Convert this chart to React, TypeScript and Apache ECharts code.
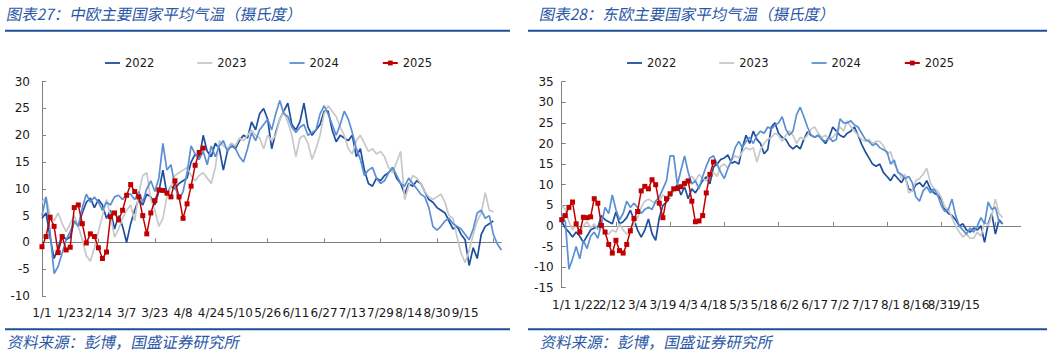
import React, { useEffect, useRef } from 'react';
import * as echarts from 'echarts';

const seriesNames = ['2022', '2023', '2024', '2025'];
const seriesColors = ['#1f4e9e', '#c8c8c8', '#5b8fd3', '#c00000'];

const leftTitle = '图表27：中欧主要国家平均气温（摄氏度）';
const rightTitle = '图表28：东欧主要国家平均气温（摄氏度）';
const sourceText = '资料来源：彭博，国盛证券研究所';

const leftTickLabels = ['1/1', '1/23', '2/14', '3/7', '3/23', '4/8', '4/24', '5/10', '5/26', '6/11', '6/27', '7/13', '7/29', '8/14', '8/30', '9/15'];
const rightTickLabels = ['1/1', '1/22', '2/12', '3/4', '3/19', '4/3', '4/18', '5/3', '5/18', '6/2', '6/17', '7/2', '7/17', '8/1', '8/16', '8/31', '9/15'];
const leftCategoryCount = 115;
const rightCategoryCount = 128;

// 中欧
const left2022 = [
  4.5, 5.5, 1.0, -3.0, -1.0, 1.5, 0.5, 1.0, 4.0, 3.0,
  5.5, 7.5, 8.3, 6.5, 8.0, 7.0, 4.5, 6.0, 2.5, 5.0,
  3.0, 0.0, 3.5, 6.0, 8.0, 7.0, 9.0, 8.5, 7.0, 9.5,
  13.5, 9.0, 10.5, 10.0, 11.0, 11.5, 12.0, 15.0, 16.5, 15.5,
  20.0, 17.0, 16.0, 18.5, 17.5, 13.5, 17.0, 18.5, 17.5, 19.0,
  20.0, 19.5, 22.5, 21.0, 24.0, 25.0, 23.0, 17.5, 20.5, 23.0,
  24.5, 26.0, 22.0, 21.0, 22.5, 26.0, 21.5, 20.0, 21.0, 22.0,
  24.5, 24.5, 21.0, 18.8, 20.0, 19.5, 19.0, 20.0, 16.0, 17.5,
  13.5, 11.0, 10.5, 12.0, 11.5, 12.5, 13.0, 14.0, 12.0, 11.0,
  9.0, 11.0, 10.5, 11.5, 11.0, 9.5, 8.0, 7.5, 6.5, 6.0,
  5.5, 4.0, 2.5, 3.0, 1.5, 0.5, -4.3, -1.0, -3.0, 1.5,
  3.0, 3.5, 4.0,
];
const left2023 = [
  7.5, 8.5, 5.0, 4.0, 5.5, 3.5, 2.0, 3.5, 5.0, 3.0,
  0.5, -2.5, -3.5, -1.0, 2.0, 5.0, 8.0, 5.0, 1.0, 2.5,
  4.5, 6.0, 7.0, 4.0, 9.0, 12.5, 13.0, 8.0, 6.0, 3.0,
  4.5, 8.5, 10.5, 12.5, 13.0, 13.5, 14.0, 12.5, 11.5, 12.5,
  13.0, 12.0, 11.0, 14.0, 19.0, 18.0, 17.5, 18.5, 18.0, 19.5,
  19.0, 20.0, 21.0, 20.0, 19.5, 17.5, 20.0, 19.0, 20.0, 23.0,
  24.5, 22.5, 20.0, 16.0, 19.5, 20.0, 18.5, 15.5, 17.5, 20.0,
  24.0, 25.5, 24.5, 23.5, 21.5, 20.0, 17.5, 16.5, 19.0, 20.0,
  18.5, 17.0, 17.5, 16.5, 17.0, 16.0, 14.0, 13.0, 15.0, 17.0,
  8.0, 10.5, 12.5, 12.0, 11.0, 9.5, 8.5, 8.0, 8.5, 9.0,
  7.5, 5.0, 4.5, 1.0, -2.0, -3.8, -1.5, 1.5, 4.0, 5.5,
  9.3, 6.0, 5.7,
];
const left2024 = [
  5.0, 8.5, 2.0, -5.8, -4.5, -2.0, 0.5, 2.0, 4.0, 3.0,
  6.5, 9.0, 7.5, 8.5, 7.5, 6.0, 7.5, 7.0, 8.5, 8.8,
  8.0, 9.0, 9.0, 8.0, 9.5, 7.5, 10.0, 11.5, 9.5, 12.0,
  18.5, 13.5, 14.5, 10.5, 8.0, 9.5, 13.0, 18.0, 16.5, 15.5,
  17.0, 14.5, 18.0, 16.0, 18.0, 19.0, 17.0, 18.0, 17.5, 16.0,
  15.0, 17.5, 20.5, 19.0, 21.0, 22.0, 23.0, 21.0, 24.0, 26.5,
  24.0, 23.5, 21.5, 20.5, 21.5, 22.0, 20.0, 20.5, 21.0, 24.0,
  25.5, 24.0, 22.0, 20.0, 22.0, 24.5, 23.0, 20.5, 17.5, 15.5,
  12.5, 13.5, 14.0, 12.0, 11.0, 11.5, 13.0, 14.0, 12.5, 11.0,
  10.5, 12.0, 11.0, 10.0, 9.0, 8.5, 6.5, 3.0, 2.3, 3.0,
  4.0, 4.5, 3.5, 3.0, 2.5, 1.5, 0.5, 2.5, 5.5, 6.0,
  4.5, 5.0, 1.5, -0.3, -1.4,
];
const left2025 = [
  -0.8, 1.1, 4.7, 3.0, -1.9, 1.1, -1.4, -0.9, 6.5, 7.0,
  3.5, -0.1, 1.6, 1.1, -1.0, -3.0, -1.8, 4.8, 5.5, 4.2,
  6.0, 8.8, 10.8, 9.5, 8.5, 5.0, 1.6, 5.5, 7.8, 9.8,
  9.7, 9.2, 8.5, 11.5, 8.5, 4.5, 7.2, 10.5, 14.4, 16.8,
  17.6,
];

// 东欧
const right2022 = [
  1.0, -0.5, -1.5, -2.7, -1.5, -2.5, -4.0, -2.5, -1.0, -0.5,
  -0.3, 2.5, 1.5, 1.0, 0.5, 3.4, 0.5, 1.0, 2.0, 3.8,
  1.5, -1.0, -2.7, -1.0, 1.7, -1.9, -3.5, 2.0, 5.0, 5.8,
  7.0, 8.8, 10.0, 7.5, 9.5, 6.6, 9.0, 8.0, 9.5, 11.0,
  11.9, 10.2, 14.3, 15.0, 16.1, 16.5, 17.2, 15.2, 15.6, 15.0,
  19.0, 22.0, 20.0, 23.0, 21.0, 20.0, 17.5, 18.5, 24.0, 25.0,
  22.5, 21.5, 21.0, 19.5, 18.7, 19.5, 18.7, 21.0, 22.8, 22.0,
  21.5, 22.0, 21.0, 20.0, 21.5, 24.0, 23.0, 22.0, 21.5, 22.5,
  23.0, 24.0, 22.0, 19.8, 18.0, 16.5, 15.0, 14.5, 15.0, 13.0,
  12.0, 11.0, 12.5, 11.5, 10.5, 12.0, 9.0, 8.5, 10.0, 10.5,
  9.5, 11.0, 9.0, 8.0, 7.5, 6.5, 4.0, 3.0, 2.5, 1.5,
  0.0, 0.5, -1.0, -1.5, -0.5, -1.0, 0.0, -4.0, 0.5, 3.0,
  -2.0, 1.5, 0.5,
];
const right2023 = [
  5.0, 4.0, 1.0, -1.0, 0.5, -1.5, 0.0, 1.0, -0.5, 0.5,
  -1.0, 0.0, -1.5, -2.0, -1.0, -1.5, 0.5, -1.0, -2.0, -1.5,
  0.5, 2.0, 4.5, 6.0, 6.5, 6.0, 5.5, 6.0, 7.5, 7.0,
  7.0, 9.0, 8.5, 10.0, 11.0, 11.5, 12.0, 11.0, 12.5, 11.5,
  11.0, 12.5, 13.0, 12.0, 14.5, 15.0, 14.0, 16.0, 17.0, 16.5,
  18.0, 19.0, 18.5, 19.0, 15.5, 18.5, 20.0, 21.0, 21.5, 22.5,
  22.0, 20.5, 22.0, 23.0, 22.0, 20.0, 21.5, 21.0, 22.0, 23.5,
  24.0, 22.5, 21.5, 22.0, 21.0, 21.5, 22.5, 24.0, 23.0, 25.5,
  24.0, 23.0, 22.0, 21.0, 20.5, 21.0, 20.0, 20.5, 20.5, 19.5,
  17.5, 18.0, 15.0, 13.5, 11.5, 12.5, 8.0, 8.5, 11.0, 11.5,
  12.5, 14.0, 10.5, 9.0, 8.5, 7.0, 4.5, 4.0, 2.0, 0.0,
  -1.5, -2.7, -2.0, -3.0, -3.0, -1.5, -2.5, 1.0, 0.0, 2.5,
  6.5, 3.0, 2.0,
];
const right2024 = [
  3.0, 1.0, -10.5, -8.0, -5.0, -8.0, -3.5, -5.5, -2.5, -1.5,
  -3.0, 0.5, 4.5, 3.0, 7.5, 4.0, 1.5, 3.0, 6.0, 4.5,
  5.5, 4.5, 3.0, 4.0, 4.5, 4.0, 6.0, 7.0, 9.0, 11.0,
  17.0, 17.0, 10.0, 13.5, 17.0, 13.0, 10.2, 11.0, 9.0, 12.0,
  14.5, 16.5, 17.0, 15.0, 13.0, 11.5, 14.0, 16.0, 19.0, 20.5,
  19.0, 20.5, 21.5, 20.0, 22.0, 23.0, 22.5, 24.0, 23.5, 24.5,
  25.0, 26.5, 23.5, 22.0, 23.0, 27.0, 28.8, 26.5, 24.0, 22.0,
  21.5, 22.0, 21.0, 20.5, 21.5, 20.5, 21.0, 26.0, 25.0, 25.0,
  25.5, 24.5, 24.0, 22.5, 21.0, 20.5, 19.5, 20.0, 19.0, 18.5,
  18.0, 15.0, 16.0, 13.0, 12.5, 11.5, 12.0, 10.5, 7.0, 6.0,
  8.5, 9.5, 8.0, 9.0, 7.5, 5.0, 3.5, 4.0, 6.5, 2.5,
  0.0, -1.0, -2.0, -0.5, -1.5, 0.0, 2.0, 0.5, 5.8, 4.0,
  4.5, 1.0, 0.5,
];
const right2025 = [
  1.5, 2.5, 4.5, 5.8, 0.5, -1.5, 2.1, 2.0, 2.2, 6.6,
  5.5, 0.1, -1.5, -4.5, -6.6, -3.5, -6.0, -6.6, -4.5, -1.2,
  1.8, 3.5, 8.5, 9.6, 9.0, 11.2, 10.0, 5.5, 2.0, 6.6,
  7.8, 9.0, 9.1, 9.5, 10.3, 10.9, 6.0, 1.0, 1.2, 2.5,
  8.0, 12.5, 15.5,
];

const leftSeriesData = [left2022, left2023, left2024, left2025];
const rightSeriesData = [right2022, right2023, right2024, right2025];

const FONT = 'DejaVu Sans';
const CJK = 'Noto Sans CJK SC';
const BLUE_RULE = '#1d4f9c';
const BLUE_TEXT = '#2a57a5';
const AXIS_GREY = '#808080';
const LINE_ICON = 'path://M0,0 L15,0 L15,1.8 L0,1.8 Z';

function buildSeries(data: number[][], gridIdx: number) {
  return data.map((d, k) => {
    const isLast = k === 3;
    return {
      name: seriesNames[k],
      type: 'line',
      xAxisIndex: gridIdx * 2,
      yAxisIndex: gridIdx,
      data: d,
      symbol: isLast ? 'rect' : 'none',
      symbolSize: 5,
      showSymbol: isLast,
      showAllSymbol: true,
      color: seriesColors[k],
      itemStyle: { color: seriesColors[k] },
      lineStyle: { color: seriesColors[k], width: isLast ? 1.5 : 1.7 },
      z: 2 + k,
      silent: true,
    };
  });
}

function xAxesFor(gridIdx: number, count: number, labels: string[], tickEvery: number) {
  const cats = Array.from({ length: count }, (_, i) => String(i));
  return [
    {
      gridIndex: gridIdx,
      type: 'category',
      data: cats,
      boundaryGap: false,
      position: 'bottom',
      axisLine: { show: false, onZero: false },
      axisTick: { show: false },
      splitLine: { show: false },
      axisLabel: {
        interval: (i: number) => i % 7 === 0,
        formatter: (_v: string, i: number) => labels[i / 7] ?? '',
        margin: 11,
        fontSize: 12,
        fontFamily: FONT,
        color: '#1a1a1a',
      },
    },
    {
      gridIndex: gridIdx,
      type: 'category',
      data: cats,
      boundaryGap: false,
      position: 'bottom',
      axisLine: { show: true, onZero: true, lineStyle: { color: AXIS_GREY, width: 1 } },
      axisTick: {
        show: true,
        inside: true,
        length: 4,
        interval: (i: number) => i % tickEvery === 0,
        lineStyle: { color: AXIS_GREY },
      },
      axisLabel: { show: false },
      splitLine: { show: false },
    },
  ];
}

function yAxisFor(gridIdx: number, min: number, max: number, margin: number) {
  return {
    gridIndex: gridIdx,
    type: 'value',
    min,
    max,
    interval: 5,
    axisLine: { show: true, lineStyle: { color: AXIS_GREY, width: 1 } },
    axisTick: { show: true, inside: true, length: 4, lineStyle: { color: AXIS_GREY } },
    splitLine: { show: false },
    axisLabel: { margin, fontSize: 12, fontFamily: FONT, color: '#1a1a1a' },
  };
}

function legendAt(left: number) {
  return {
    left,
    top: 57,
    itemWidth: 15,
    itemHeight: 6,
    itemGap: 43,
    padding: 0,
    selectedMode: false,
    data: [
      { name: seriesNames[0], icon: LINE_ICON },
      { name: seriesNames[1], icon: LINE_ICON },
      { name: seriesNames[2], icon: LINE_ICON },
      { name: seriesNames[3] },
    ],
    textStyle: { fontSize: 11.5, fontFamily: FONT, color: '#1a1a1a' },
  };
}

function panelGraphics(x0: number, ruleStart: number, ruleEnd: number, title: string) {
  return [
    {
      type: 'text',
      x: x0,
      y: 13.5,
      skewX: -0.2,
      silent: true,
      style: { text: title, fontSize: 15.5, fontFamily: CJK, fill: BLUE_TEXT, align: 'left', verticalAlign: 'middle' },
    },
    {
      type: 'line',
      silent: true,
      shape: { x1: ruleStart, y1: 30.7, x2: ruleEnd, y2: 30.7 },
      style: { stroke: BLUE_RULE, lineWidth: 2 },
    },
    {
      type: 'line',
      silent: true,
      shape: { x1: ruleStart, y1: 329.3, x2: ruleEnd, y2: 329.3 },
      style: { stroke: BLUE_RULE, lineWidth: 2 },
    },
    {
      type: 'text',
      x: x0 + 1,
      y: 341.7,
      skewX: -0.2,
      silent: true,
      style: { text: sourceText, fontSize: 15.5, fontFamily: CJK, fill: BLUE_TEXT, align: 'left', verticalAlign: 'middle' },
    },
  ];
}

export default function App() {
  const ref = useRef<HTMLDivElement>(null);
  useEffect(() => {
    if (!ref.current) return;
    const chart = echarts.init(ref.current, null, { renderer: 'svg' });
    const option = {
      animation: false,
      backgroundColor: '#ffffff',
      textStyle: { fontFamily: FONT },
      legend: [legendAt(105), legendAt(627)],
      grid: [
        { left: 42, top: 81.7, width: 459.4, height: 214.3 },
        { left: 561.7, top: 81.7, width: 459, height: 206 },
      ],
      xAxis: [
        ...xAxesFor(0, leftCategoryCount, leftTickLabels, 14),
        ...xAxesFor(1, rightCategoryCount, rightTickLabels, 15),
      ],
      yAxis: [yAxisFor(0, -10, 30, 12), yAxisFor(1, -15, 35, 8)],
      series: [...buildSeries(leftSeriesData, 0), ...buildSeries(rightSeriesData, 1)],
      graphic: [
        ...panelGraphics(7, 5, 510, leftTitle),
        ...panelGraphics(540, 528, 1047, rightTitle),
      ],
    };
    chart.setOption(option as any);
    return () => chart.dispose();
  }, []);
  return <div ref={ref} style={{ position: 'absolute', left: 0, top: 0, width: 1055, height: 354 }} />;
}
